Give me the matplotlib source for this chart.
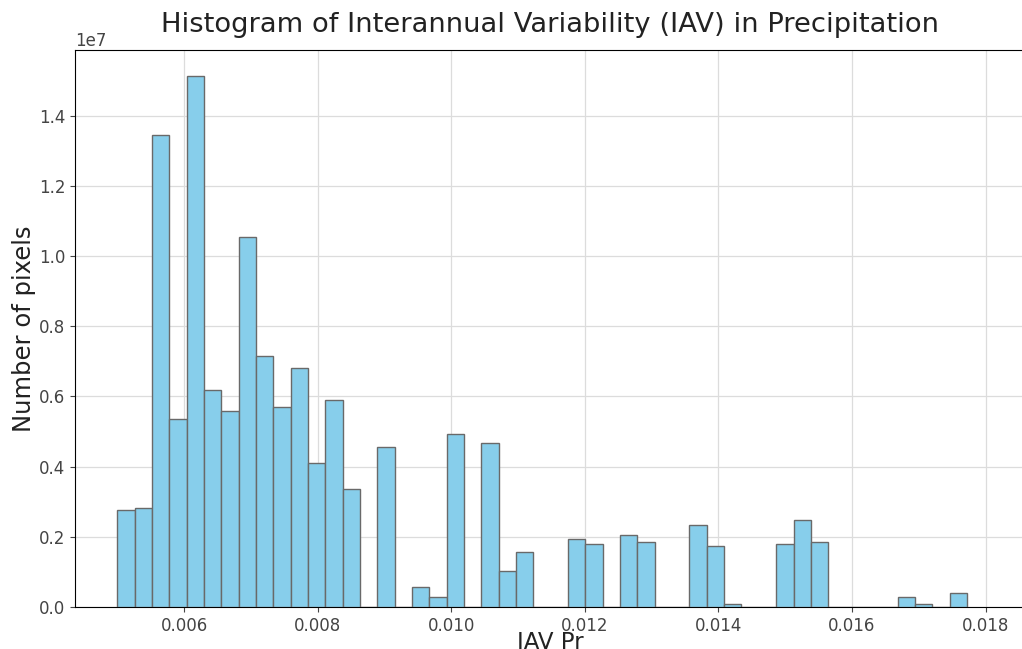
import numpy as np
import matplotlib
matplotlib.use("Agg")
import matplotlib.pyplot as plt

# histogram bins: 49 equal bins between these edges
bin_start = 0.005
bin_stop = 0.01772
n_bins = 49

# counts per bin (pixels), in units of 1e6
counts_m = [2.77, 2.82, 13.46, 5.35, 15.12, 6.18, 5.58, 10.55, 7.14, 5.69,
            6.80, 4.09, 5.89, 3.36, 0.0, 4.57, 0.0, 0.58, 0.28, 4.92,
            0.0, 4.67, 1.02, 1.56, 0.0, 0.0, 1.95, 1.79, 0.0, 2.05,
            1.84, 0.0, 0.0, 2.33, 1.74, 0.09, 0.0, 0.0, 1.80, 2.48,
            1.85, 0.0, 0.0, 0.0, 0.0, 0.28, 0.09, 0.0, 0.39]

x_ticks = [0.006, 0.008, 0.010, 0.012, 0.014, 0.016, 0.018]
y_ticks = [0, 0.2e7, 0.4e7, 0.6e7, 0.8e7, 1.0e7, 1.2e7, 1.4e7]

edges = np.linspace(bin_start, bin_stop, n_bins + 1)
centers = (edges[:-1] + edges[1:]) / 2
weights = np.array(counts_m) * 1e6

fig = plt.figure(figsize=(10.22, 6.49), dpi=100)
ax = fig.add_axes([75 / 1022, 1 - 607 / 649, 950 / 1022, 557 / 649])

ax.hist(centers, bins=edges, weights=weights, color='skyblue',
        edgecolor='dimgray', linewidth=1.0, zorder=3)

ax.set_xlim(0.004368, 0.004368 + 950 / 66.8 * 0.001)
ax.set_ylim(0, 1.587e7)
ax.set_xticks(x_ticks)
ax.set_yticks(y_ticks)
ax.grid(True, color='#dcdcdc', linewidth=0.9, zorder=0)

ax.tick_params(labelsize=12, colors='#444444', labelcolor='#444444')
ax.yaxis.get_offset_text().set_fontsize(12)
ax.spines['right'].set_visible(False)

ax.set_title('Histogram of Interannual Variability (IAV) in Precipitation',
             fontsize=19.7, color='#222222', pad=13)
ax.set_xlabel('IAV Pr', fontsize=16.5, color='#222222', labelpad=-3)
ax.set_ylabel('Number of pixels', fontsize=17.5, color='#222222', labelpad=2)

fig.savefig('out.png', dpi=100)
